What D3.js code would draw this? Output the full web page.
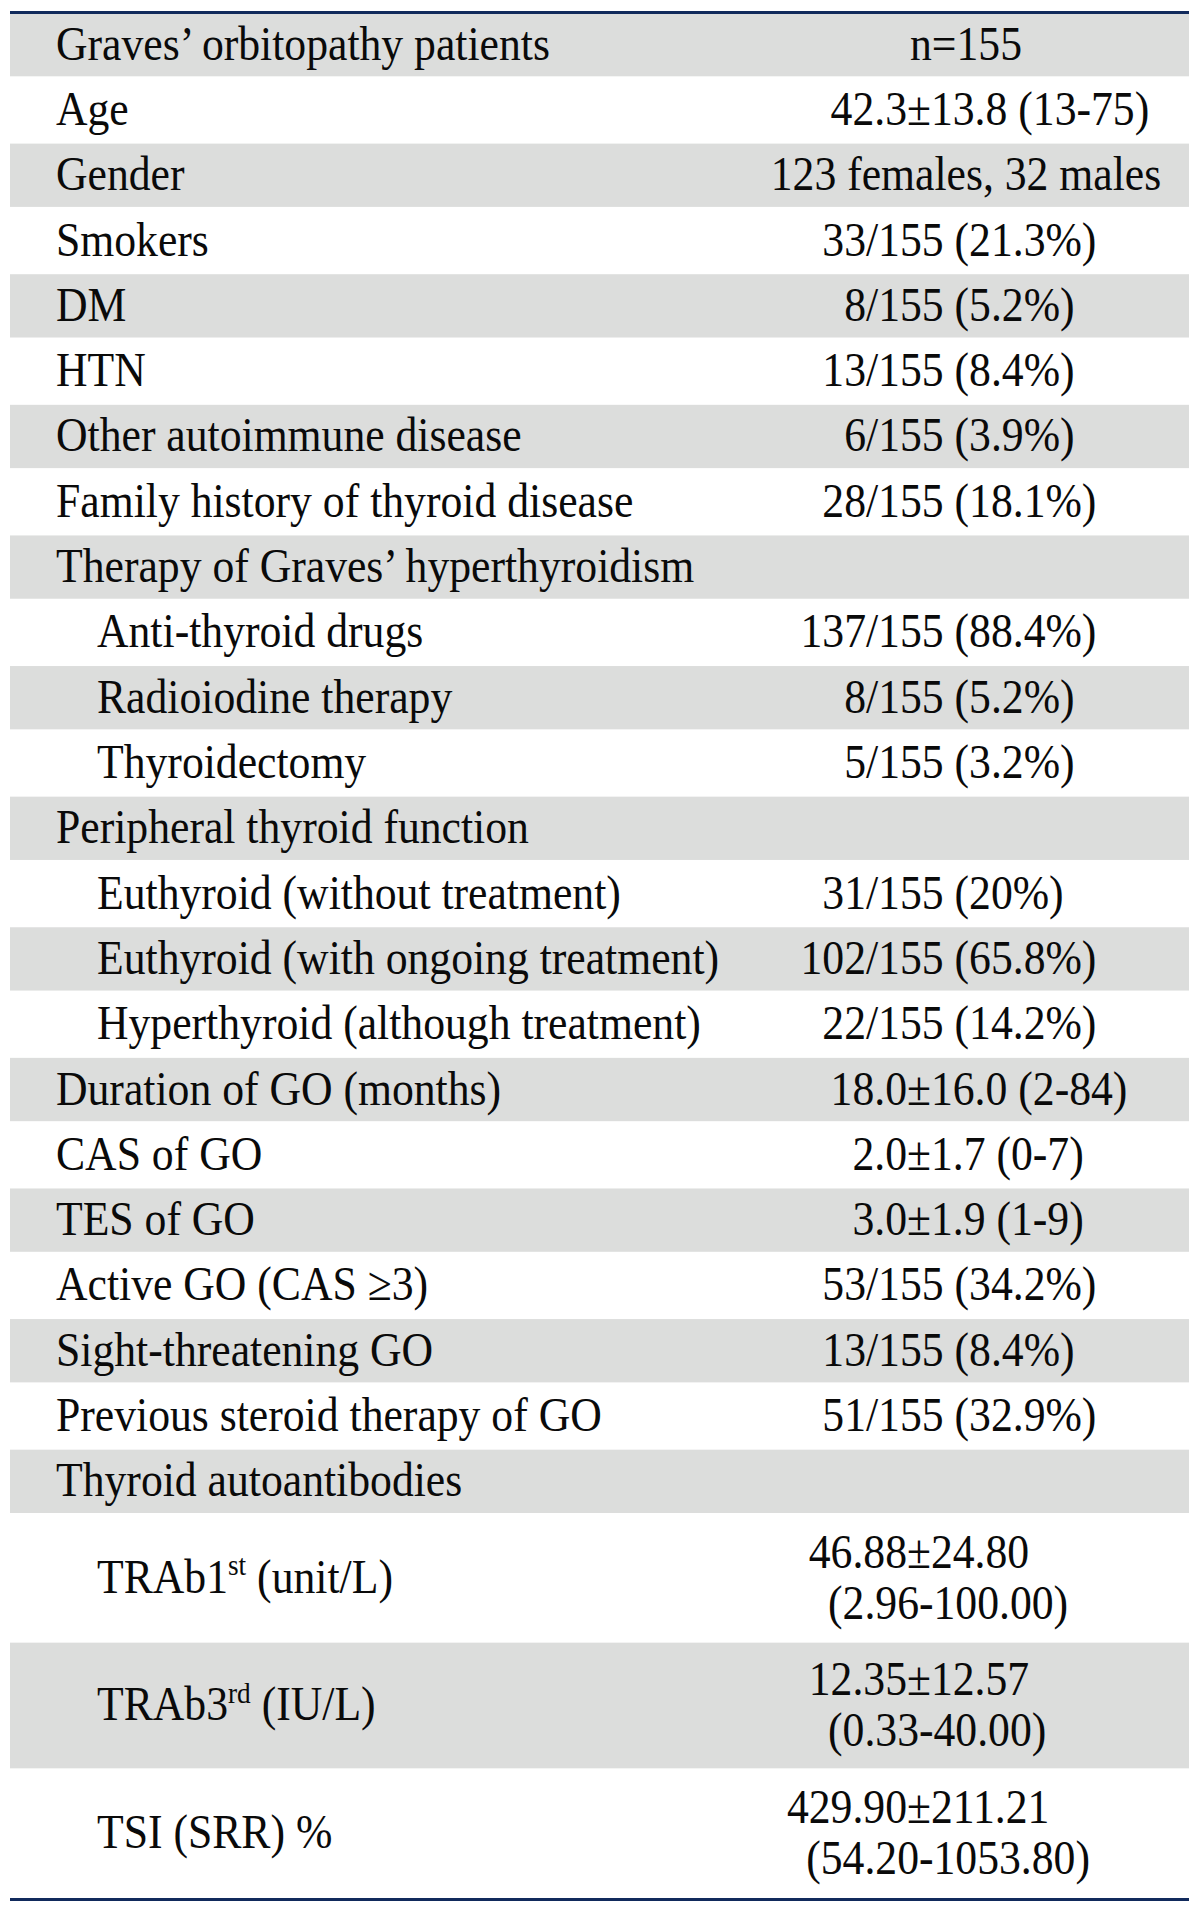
<!DOCTYPE html>
<html>
<head>
<meta charset="utf-8">
<script src="https://cdn.jsdelivr.net/npm/d3@7/dist/d3.min.js"></script>
<style>
  html, body { margin: 0; padding: 0; background: #ffffff; }
  svg { display: block; }
</style>
</head>
<body>
<svg id="chart" width="1200" height="1911"></svg>
<script>
// ---- Data ----
const labels = [
  "Graves’ orbitopathy patients",
  "Age",
  "Gender",
  "Smokers",
  "DM",
  "HTN",
  "Other autoimmune disease",
  "Family history of thyroid disease",
  "Therapy of Graves’ hyperthyroidism",
  "Anti-thyroid drugs",
  "Radioiodine therapy",
  "Thyroidectomy",
  "Peripheral thyroid function",
  "Euthyroid (without treatment)",
  "Euthyroid (with ongoing treatment)",
  "Hyperthyroid (although treatment)",
  "Duration of GO (months)",
  "CAS of GO",
  "TES of GO",
  "Active GO (CAS ≥3)",
  "Sight-threatening GO",
  "Previous steroid therapy of GO",
  "Thyroid autoantibodies",
  "TRAb1^st (unit/L)",
  "TRAb3^rd (IU/L)",
  "TSI (SRR) %"
];
const values = [
  "n=155",
  "42.3±13.8 (13-75)",
  "123 females, 32 males",
  "33/155 (21.3%)",
  "8/155 (5.2%)",
  "13/155 (8.4%)",
  "6/155 (3.9%)",
  "28/155 (18.1%)",
  "",
  "137/155 (88.4%)",
  "8/155 (5.2%)",
  "5/155 (3.2%)",
  "",
  "31/155 (20%)",
  "102/155 (65.8%)",
  "22/155 (14.2%)",
  "18.0±16.0 (2-84)",
  "2.0±1.7 (0-7)",
  "3.0±1.9 (1-9)",
  "53/155 (34.2%)",
  "13/155 (8.4%)",
  "51/155 (32.9%)",
  "",
  "46.88±24.80\n(2.96-100.00)",
  "12.35±12.57\n(0.33-40.00)",
  "429.90±211.21\n(54.20-1053.80)"
];
const indented = [9, 10, 11, 13, 14, 15, 23, 24, 25];

// ---- Layout ----
(function () {
const svg = d3.select("#chart");
const tableLeft = 10, tableRight = 1189;
const tableTop = 13, tableBottom = 1898;
const doubleUnits = 1.955;
const FONT = "'Liberation Serif', 'Times New Roman', Times, serif";
const FS = 48, SX = 0.91;
const grayFill = "#dcdddc";
const ruleColor = "#112a5c";

const rows = labels.map((l, i) => {
  const lines = values[i] ? values[i].split("\n") : [];
  return { i, label: l, lines, units: lines.length > 1 ? doubleUnits : 1, indent: indented.includes(i) };
});
let acc = 0;
rows.forEach(r => { r.u0 = acc; acc += r.units; r.u1 = acc; });
const y = d3.scaleLinear().domain([0, acc]).range([tableTop, tableBottom]);

const x = d3.scaleLinear().domain([0, 1]).range([tableLeft, tableRight]);
const labelX = 56, indentX = 97;
const slashX = 866, plusX = 907, dashX = 919, centerX = 966;

// row backgrounds
svg.append("g").selectAll("rect")
  .data(rows.filter(r => r.i % 2 === 0))
  .join("rect")
  .attr("x", x(0))
  .attr("width", x(1) - x(0))
  .attr("y", r => y(r.u0))
  .attr("height", r => y(r.u1) - y(r.u0) - 2)
  .attr("fill", grayFill);

// rules
svg.append("line").attr("x1", x(0)).attr("x2", x(1)).attr("y1", 12.5).attr("y2", 12.5)
  .attr("stroke", ruleColor).attr("stroke-width", 3);
svg.append("line").attr("x1", x(0)).attr("x2", x(1)).attr("y1", 1899.5).attr("y2", 1899.5)
  .attr("stroke", ruleColor).attr("stroke-width", 3);

const txt = svg.append("g").attr("font-family", FONT).attr("font-size", FS).attr("fill", "#0a0a0a");

// labels
rows.forEach(r => {
  const cy = (y(r.u0) + y(r.u1)) / 2 - 1;
  const g = txt.append("g")
    .attr("transform", `translate(${r.indent ? indentX : labelX},${cy + 15}) scale(${SX},1)`);
  const t = g.append("text").attr("x", 0).attr("y", 0);
  const parts = r.label.split(/\^(\w+)/);
  if (parts.length === 1) {
    t.text(r.label);
  } else {
    t.append("tspan").text(parts[0]);
    t.append("tspan").attr("font-size", 30).attr("dy", -18).text(parts[1]);
    t.append("tspan").attr("dy", 18).text(parts[2]);
  }
});

// measuring helper
const probe = txt.append("text").attr("visibility", "hidden");
function widthOf(s) {
  probe.text(s);
  return probe.node().getComputedTextLength();
}

// values: aligned on "/", "±" or "-" like a decimal tab
function drawAligned(line, baseline, isSecond) {
  let ch = null, ax = centerX;
  if (isSecond && line.startsWith("(")) { ch = "-"; ax = dashX; }
  else if (line.includes("±")) { ch = "±"; ax = plusX; }
  else if (line.includes("/")) { ch = "/"; ax = slashX; }
  const g = txt.append("g").attr("transform", `translate(${ax},${baseline}) scale(${SX},1)`);
  if (!ch) {
    g.append("text").attr("text-anchor", "middle").text(line);
    return;
  }
  const k = line.indexOf(ch);
  const w = widthOf(line.slice(0, k));
  g.append("text").attr("text-anchor", "start").attr("x", -w).text(line);
}

rows.forEach(r => {
  if (!r.lines.length) return;
  const cy = (y(r.u0) + y(r.u1)) / 2 - 1;
  if (r.lines.length === 1) {
    drawAligned(r.lines[0], cy + 15, false);
  } else {
    drawAligned(r.lines[0], cy - 10, false);
    drawAligned(r.lines[1], cy + 41, true);
  }
});
probe.remove();
})();
</script>
</body>
</html>
